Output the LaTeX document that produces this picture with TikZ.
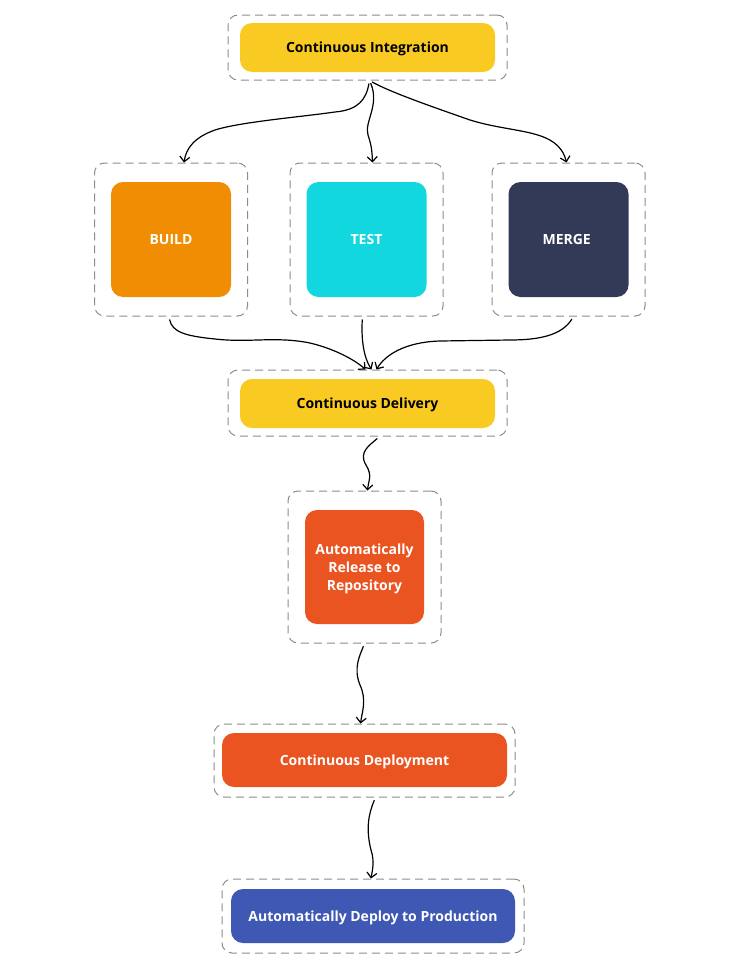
\documentclass[tikz,border=0pt]{standalone}
\usepackage{fontspec}
\setmainfont{Open Sans}
\usetikzlibrary{arrows.meta}

\definecolor{ciyellow}{HTML}{F9CB22}
\definecolor{buildorange}{HTML}{F18D02}
\definecolor{testcyan}{HTML}{12D7DF}
\definecolor{mergenavy}{HTML}{333A57}
\definecolor{cdorange}{HTML}{E95421}
\definecolor{prodblue}{HTML}{3F58B4}
\definecolor{framegray}{HTML}{8C8C8C}

\tikzset{
    frame/.style={draw=framegray, line width=1pt, dash pattern=on 8pt off 5pt, rounded corners=10pt},
    card/.style={rounded corners=12pt, text=white, align=center, inner sep=0pt, text depth=0pt,
        font=\bfseries\fontsize{14}{18}\selectfont},
    flow/.style={line width=1.2pt, shorten <=3pt, -{Straight Barb[length=5pt,width=10pt]}},
}

\begin{document}
\begin{tikzpicture}[x=1pt, y=-1pt]
        \useasboundingbox (0,0) rectangle (735,980);

        % integração contínua
        \node[frame, minimum width=279pt, minimum height=65pt] (ciframe) at (367.5,47.5) {};
        \node[card, fill=ciyellow, text=black, minimum width=255pt, minimum height=49pt] (ci) at (367.5,47.5) {Continuous Integration};

        % etapas paralelas
        \foreach \name/\x/\col/\lab in {
            build/171/buildorange/BUILD,
            test/366.5/testcyan/TEST,
            merge/568.5/mergenavy/MERGE
        }{
            \node[frame, minimum width=153pt, minimum height=153pt] (\name frame) at (\x,239.5) {};
            \node[card, fill=\col, minimum width=120pt, minimum height=115pt] (\name) at (\x,239.5) {\lab};
        }

        % entrega contínua
        \node[frame, minimum width=279pt, minimum height=66pt] (delframe) at (367.5,403) {};
        \node[card, fill=ciyellow, text=black, minimum width=255pt, minimum height=49pt] (del) at (367.5,403.5) {Continuous Delivery};

        \node[frame, minimum width=153pt, minimum height=152pt] (relframe) at (364.5,567) {};
        \node[card, fill=cdorange, minimum width=119pt, minimum height=114pt] (rel) at (364.5,567) {Automatically\\Release to\\Repository};

        % implantação contínua
        \node[frame, minimum width=301pt, minimum height=73pt] (depframe) at (364.5,760.5) {};
        \node[card, fill=cdorange, minimum width=285pt, minimum height=54pt] (dep) at (364.5,760) {Continuous Deployment};

        \node[frame, minimum width=302pt, minimum height=74pt] (prodframe) at (373,916) {};
        \node[card, fill=prodblue, minimum width=284pt, minimum height=54pt] (prod) at (373,916) {Automatically Deploy to Production};

        % ramificação
        \draw[flow] ([xshift=2pt]ciframe.south) .. controls (366,100) and (358,110) .. (335,112)
            .. controls (300,117) and (240,122) .. (215,130)
            .. controls (195,137) and (186,148) .. ([xshift=13pt]buildframe.north);
        \draw[flow] ([xshift=2pt]ciframe.south) .. controls (380,105) and (364,122) .. (368,135)
            .. controls (372,147) and (372,152) .. ([xshift=6pt]testframe.north);
        \draw[flow] ([xshift=2pt]ciframe.south) .. controls (390,92) and (430,106) .. (470,120)
            .. controls (515,134) and (558,128) .. ([xshift=-2pt]mergeframe.north);

        % junção
        \draw[flow] ([xshift=-2pt]buildframe.south) .. controls (172,332) and (185,336) .. (215,339)
            .. controls (250,343) and (275,336) .. (310,343)
            .. controls (335,349) and (355,360) .. ([xshift=-2pt]delframe.north);
        \draw[flow] ([xshift=-4pt]testframe.south) .. controls (361,340) and (364,358) .. ([xshift=4pt]delframe.north);
        \draw[flow] ([xshift=5pt]mergeframe.south) .. controls (562,335) and (540,340) .. (510,340)
            -- (440,341) .. controls (405,342) and (385,355) .. ([xshift=9pt]delframe.north);

        % sequência
        \draw[flow] ([xshift=12pt]delframe.south) .. controls (370,445) and (358,452) .. (366,465)
            .. controls (373,476) and (368,482) .. ([xshift=3pt]relframe.north);
        \draw[flow] (relframe.south) .. controls (360,655) and (353,668) .. (360,685)
            .. controls (367,700) and (362,712) .. ([xshift=-4pt]depframe.north);
        \draw[flow] ([xshift=11pt]depframe.south) .. controls (368,815) and (366,830) .. (371,850)
            .. controls (375,862) and (372,872) .. ([xshift=-2pt]prodframe.north);
\end{tikzpicture}
\end{document}
